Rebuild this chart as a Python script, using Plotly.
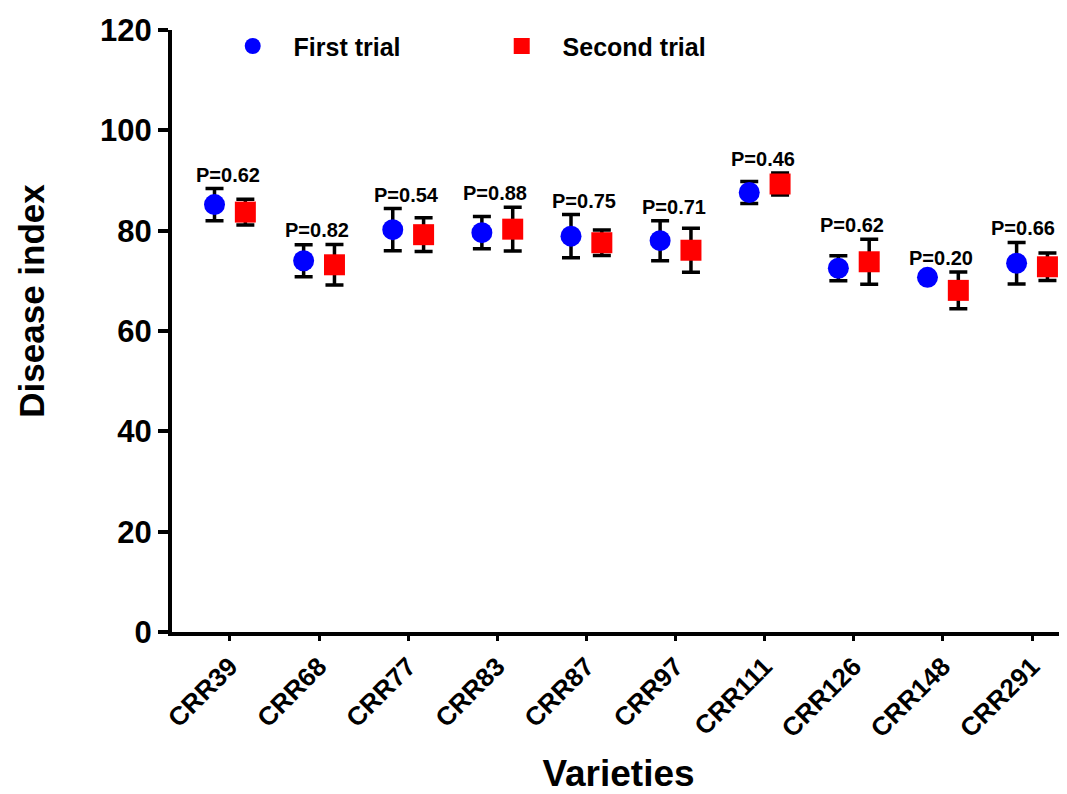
import plotly.graph_objects as go

varieties = ["CRR39", "CRR68", "CRR77", "CRR83", "CRR87", "CRR97", "CRR111", "CRR126", "CRR148", "CRR291"]
first_mean = [85.2, 74.0, 80.2, 79.6, 78.9, 78.0, 87.6, 72.5, 70.7, 73.5]
first_sd = [3.2, 3.2, 4.2, 3.2, 4.3, 4.0, 2.2, 2.5, 0.0, 4.15]
second_mean = [83.7, 73.2, 79.2, 80.3, 77.6, 76.1, 89.3, 73.8, 68.1, 72.8]
second_sd = [2.55, 4.05, 3.35, 4.35, 2.55, 4.4, 2.2, 4.5, 3.65, 2.75]
p_values = ["P=0.62", "P=0.82", "P=0.54", "P=0.88", "P=0.75", "P=0.71", "P=0.46", "P=0.62", "P=0.20", "P=0.66"]
y_ticks = [0, 20, 40, 60, 80, 100, 120]

FONT = "Liberation Sans, Arial, sans-serif"
idx = list(range(len(varieties)))
off = 0.173

fig = go.Figure()
fig.add_trace(go.Scatter(
    x=[i - off for i in idx], y=first_mean, mode="markers",
    name="\u00a0\u00a0\u00a0First trial",
    marker=dict(symbol="circle", size=21, color="#0000FF"),
    error_y=dict(type="data", array=first_sd, visible=True, color="black", thickness=3.5, width=9),
))
fig.add_trace(go.Scatter(
    x=[i + off for i in idx], y=second_mean, mode="markers",
    name="\u00a0\u00a0\u00a0Second trial",
    marker=dict(symbol="square", size=21, color="#FF0000"),
    error_y=dict(type="data", array=second_sd, visible=True, color="black", thickness=3.5, width=9),
))

last = len(p_values) - 1
for i, p in enumerate(p_values):
    top = max(first_mean[i] + first_sd[i], second_mean[i] + second_sd[i])
    fig.add_annotation(x=i, y=top, text=f"<b>{p}</b>", showarrow=False,
                       yanchor="bottom", yshift=1, xshift=(-9 if i == last else -2),
                       font=dict(size=20, color="black", family=FONT))

fig.add_annotation(x=-0.157, y=0.55, xref="paper", yref="paper", text="<b>Disease index</b>",
                   textangle=-90, showarrow=False, xanchor="center", yanchor="middle",
                   font=dict(size=35, color="black", family=FONT))

fig.update_layout(
    width=1061, height=786,
    margin=dict(l=164, r=4, t=22, b=162),
    plot_bgcolor="white", paper_bgcolor="white",
    font=dict(family=FONT, color="black"),
    showlegend=True,
    legend=dict(orientation="h", x=0.068, y=0.973, xanchor="left", yanchor="middle",
                font=dict(size=25, family=FONT, color="black", weight="bold"),
                bgcolor="rgba(0,0,0,0)", entrywidth=224, entrywidthmode="pixels"),
    xaxis=dict(
        tickmode="array", tickvals=idx, ticktext=[f"<b>{v}</b>" for v in varieties],
        range=[-0.65, 9.37], tickangle=-45, automargin=False,
        showline=True, linecolor="black", linewidth=4,
        ticks="outside", ticklen=5, tickwidth=3, tickcolor="black",
        tickfont=dict(size=26, family=FONT, color="black"),
        showgrid=False, zeroline=False,
        title=dict(text="<b>Varieties</b>", font=dict(size=37, family=FONT, color="black"), standoff=33),
    ),
    yaxis=dict(
        range=[0, 120], tickvals=y_ticks, ticktext=[f"<b>{t}</b>" for t in y_ticks],
        automargin=False,
        showline=True, linecolor="black", linewidth=4,
        ticks="outside", ticklen=10, tickwidth=3.5, tickcolor="black",
        tickfont=dict(size=31, family=FONT, color="black"),
        showgrid=False, zeroline=False,
    ),
)

fig.write_html("out.html")
